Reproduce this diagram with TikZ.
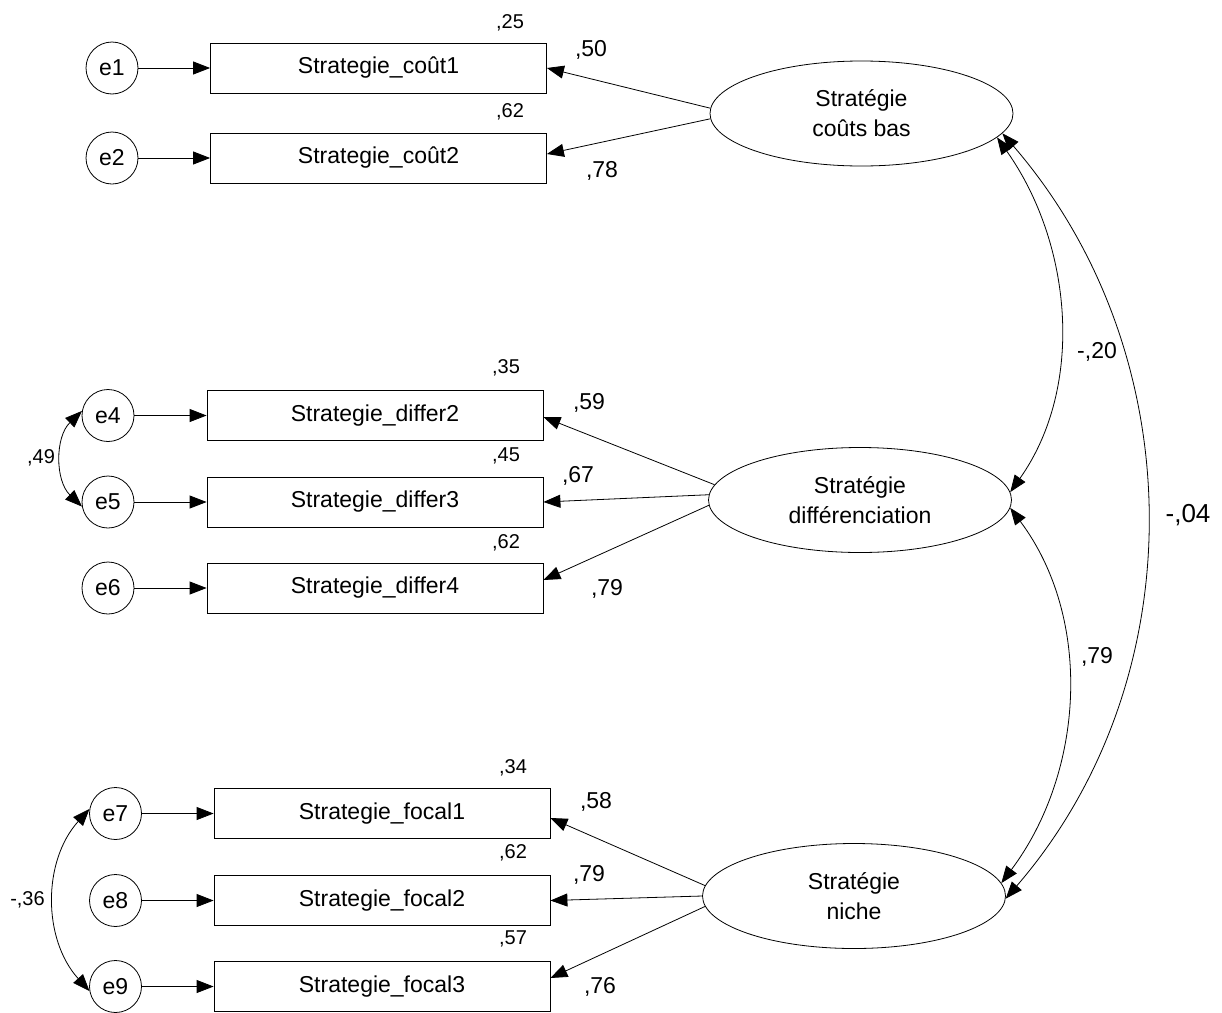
\documentclass[tikz,border=0pt]{standalone}
\usepackage{fontspec}
\setmainfont{Liberation Sans}
\usetikzlibrary{arrows.meta,shapes.geometric}

\begin{document}
\begin{tikzpicture}[x=1pt,y=-1pt,line width=0.8pt,font=\fontsize{23}{30}\selectfont,
  >={Triangle[length=17pt,width=13pt]},
  obs/.style={draw,rectangle,minimum width=336pt,minimum height=50pt,inner sep=0pt},
  err/.style={draw,circle,minimum size=52pt,inner sep=0pt},
  lat/.style={draw,ellipse,minimum width=303pt,minimum height=105pt,inner sep=0pt,align=center},
  small/.style={font=\fontsize{20}{24}\selectfont},
  big/.style={font=\fontsize{26}{30}\selectfont}]
\useasboundingbox (0,0) rectangle (1222,1012);
% latent factors
\node[lat] (cb) at (861.5,113.5) {Stratégie\\coûts bas};
\node[lat] (df) at (860,500) {Stratégie\\différenciation};
\node[lat] (ni) at (854,896) {Stratégie\\niche};
% indicators and their errors
\node[obs] (c1) at (378.5,68) {Strategie\_coût1};
\node[obs] (c2) at (378.5,158) {Strategie\_coût2};
\node[obs] (d2) at (375,415.5) {Strategie\_differ2};
\node[obs] (d3) at (375,502) {Strategie\_differ3};
\node[obs] (d4) at (375,588) {Strategie\_differ4};
\node[obs] (f1) at (382,813.5) {Strategie\_focal1};
\node[obs] (f2) at (382,900.5) {Strategie\_focal2};
\node[obs] (f3) at (382,986.5) {Strategie\_focal3};
\node[err] (e1) at (112,68) {e1};
\node[err] (e2) at (112,158) {e2};
\node[err] (e4) at (108,415.5) {e4};
\node[err] (e5) at (108,502) {e5};
\node[err] (e6) at (108,588) {e6};
\node[err] (e7) at (115.5,813.5) {e7};
\node[err] (e8) at (115.5,900.5) {e8};
\node[err] (e9) at (115.5,986.5) {e9};
\foreach \e/\v in {e1/c1,e2/c2,e4/d2,e5/d3,e6/d4,e7/f1,e8/f2,e9/f3}
  \draw[->] (\e) -- (\v);
% loadings
\draw[->] (cb.178) -- (c1.east);
\draw[->] (cb.182) -- ([yshift=4pt]c2.east);
\draw[->] (df.174.5) -- ([yshift=-1.5pt]d2.east);
\draw[->] (df.178.5) -- (d3.east);
\draw[->] (df.182.3) -- ([yshift=8pt]d4.east);
\draw[->] (ni.176.5) -- ([yshift=-4.5pt]f1.east);
\draw[->] (ni.180) -- (f2.east);
\draw[->] (ni.184) -- ([yshift=8.5pt]f3.east);
% covariances
\draw[<->] (e4.170) .. controls +(-27,26) and +(-27,-26) .. (e5.190);
\draw[<->] (e7.170) .. controls +(-47,52) and +(-47,-52) .. (e9.190);
\draw[<->] (cb.-10) .. controls +(75,106) and +(75,-106) .. (df.3.5);
\draw[<->] (df.-3.5) .. controls +(83,111) and +(83,-111) .. (ni.5);
\draw[<->] (cb.-8) .. controls +(190,220) and +(190,-220) .. (ni.-1);
% squared multiple correlations
\node[small] (sc1) at (510,23) {,25};
\node[small] (sc2) at (510,112) {,62};
\node[small] (sd2) at (506,368) {,35};
\node[small] (sd3) at (506,456) {,45};
\node[small] (sd4) at (506,543) {,62};
\node[small] (sf1) at (513,768) {,34};
\node[small] (sf2) at (513,853) {,62};
\node[small] (sf3) at (513,939) {,57};
% weights
\node (wc1) at (591,50) {,50};
\node (wc2) at (602,171) {,78};
\node (wd2) at (589,403) {,59};
\node (wd3) at (578,476) {,67};
\node (wd4) at (607,589) {,79};
\node (wf1) at (596,802) {,58};
\node (wf2) at (589,875) {,79};
\node (wf3) at (600,987) {,76};
\node[small] (k45) at (41,458) {,49};
\node[small] (k79) at (27.5,900) {-,36};
\node (kcd) at (1097,352) {-,20};
\node (kdn) at (1097,657) {,79};
\node[big] (kcn) at (1188,515) {-,04};
\end{tikzpicture}
\end{document}
